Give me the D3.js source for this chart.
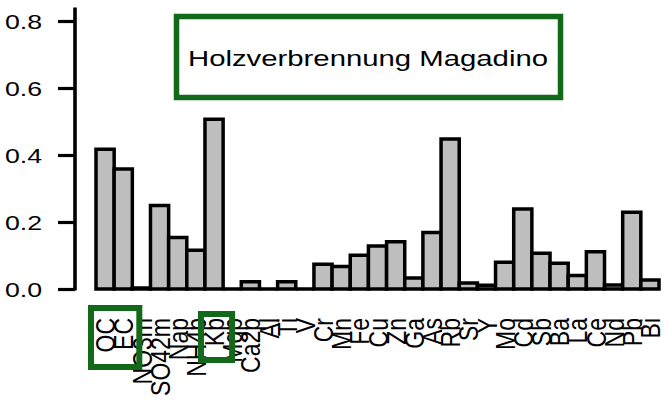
<!DOCTYPE html>
<html>
<head>
<meta charset="utf-8">
<script src="https://cdn.jsdelivr.net/npm/d3@7"></script>
<style>
  html, body { margin: 0; padding: 0; background: #ffffff; }
  svg { display: block; }
  text { font-family: "Liberation Sans", Arial, sans-serif; fill: #000; }
</style>
</head>
<body>
<script>
// ---- data ----
const categories = ["OC","EC","NO3m","SO42m","Nap","NH4p","Kp","Mgp","Ca2p","Al","Ti","V",
  "Cr","Mn","Fe","Cu","Zn","Ga","As","Rb","Sr","Y","Mo","Cd","Sb","Ba","La","Ce","Nd","Pb","Bi"];
const values = [0.417,0.358,0.003,0.249,0.154,0.116,0.507,0.0,0.022,0.0,0.022,0.0,
  0.074,0.067,0.101,0.128,0.141,0.033,0.169,0.448,0.018,0.011,0.080,0.239,0.107,0.077,0.040,0.111,0.012,0.229,0.027];
const yTicks = [0.0, 0.2, 0.4, 0.6, 0.8];
const yAxisTop = 0.84;
const titleText = "Holzverbrennung Magadino";
const highlighted = [["OC","EC"], ["Kp"]];

// ---- layout ----
const W = 669, H = 404;
const green = "#12691a";
const stretch = 1.37;

const svg = d3.select("body").append("svg")
  .attr("width", W).attr("height", H);
svg.append("rect").attr("width", W).attr("height", H).attr("fill", "#fff");

const x = d3.scaleBand().domain(categories).range([96, 659]).padding(0);
const y = d3.scaleLinear().domain([0, 0.8]).range([289, 21]);
const bw = x.bandwidth();

// bars (paths so that zero-height bars still show their outline)
svg.append("g").selectAll("path").data(categories).join("path")
  .attr("d", (d, i) => {
    const p = d3.path();
    const x0 = x(d), y0 = y(0), y1 = y(values[i]);
    p.moveTo(x0, y0);
    p.lineTo(x0, y1);
    p.lineTo(x0 + bw, y1);
    p.lineTo(x0 + bw, y0);
    p.closePath();
    return p.toString();
  })
  .attr("fill", "#bebebe")
  .attr("stroke", "#000")
  .attr("stroke-width", 3.5)
  .attr("stroke-linejoin", "miter");

// y axis
const axisX = 75;
const yAxis = d3.axisLeft(y).tickValues(yTicks).tickSize(17).tickSizeOuter(0)
  .tickFormat(d3.format(".1f"));
const gy = svg.append("g").attr("transform", `translate(${axisX},0)`).call(yAxis);
gy.select(".domain").remove();
gy.selectAll(".tick line").attr("stroke", "#000").attr("stroke-width", 3.2);
gy.selectAll(".tick text")
  .attr("x", 0).attr("dy", "0.36em")
  .attr("text-anchor", "end")
  .attr("font-size", 19.5)
  .attr("font-family", "Liberation Sans, Arial, sans-serif")
  .attr("fill", "#000")
  .attr("transform", `translate(-33,0) scale(${stretch},1)`);
svg.append("line")
  .attr("x1", axisX).attr("x2", axisX)
  .attr("y1", y(0) + 1.5).attr("y2", y(yAxisTop))
  .attr("stroke", "#000").attr("stroke-width", 3.6);

// x labels (rotated, right-aligned to axis)
const labelTop = 318;
svg.append("g").selectAll("text").data(categories).join("text")
  .attr("text-anchor", "end")
  .attr("font-size", 23)
  .attr("dy", "0.36em")
  .attr("transform", d => `translate(${x(d) + bw / 2},${labelTop}) rotate(-90) scale(1,1.22)`)
  .text(d => d);

// title box
svg.append("rect")
  .attr("x", 176.5).attr("y", 16.5).attr("width", 384).attr("height", 81)
  .attr("fill", "none").attr("stroke", green).attr("stroke-width", 5.5);
svg.append("text")
  .attr("text-anchor", "middle")
  .attr("font-size", 21.4)
  .attr("transform", `translate(368,66) scale(${stretch},1)`)
  .text(titleText);

// highlight boxes around labels
const boxSpec = [
  { cats: highlighted[0], padL: 5, padR: 7, y0: 308, y1: 367 },
  { cats: highlighted[1], padL: 4, padR: 9, y0: 314, y1: 360 }
];
svg.append("g").selectAll("rect").data(boxSpec).join("rect")
  .attr("x", d => x(d.cats[0]) - d.padL)
  .attr("y", d => d.y0)
  .attr("width", d => x(d.cats[d.cats.length - 1]) + bw + d.padR - (x(d.cats[0]) - d.padL))
  .attr("height", d => d.y1 - d.y0)
  .attr("fill", "none").attr("stroke", green).attr("stroke-width", 6);
</script>
</body>
</html>
